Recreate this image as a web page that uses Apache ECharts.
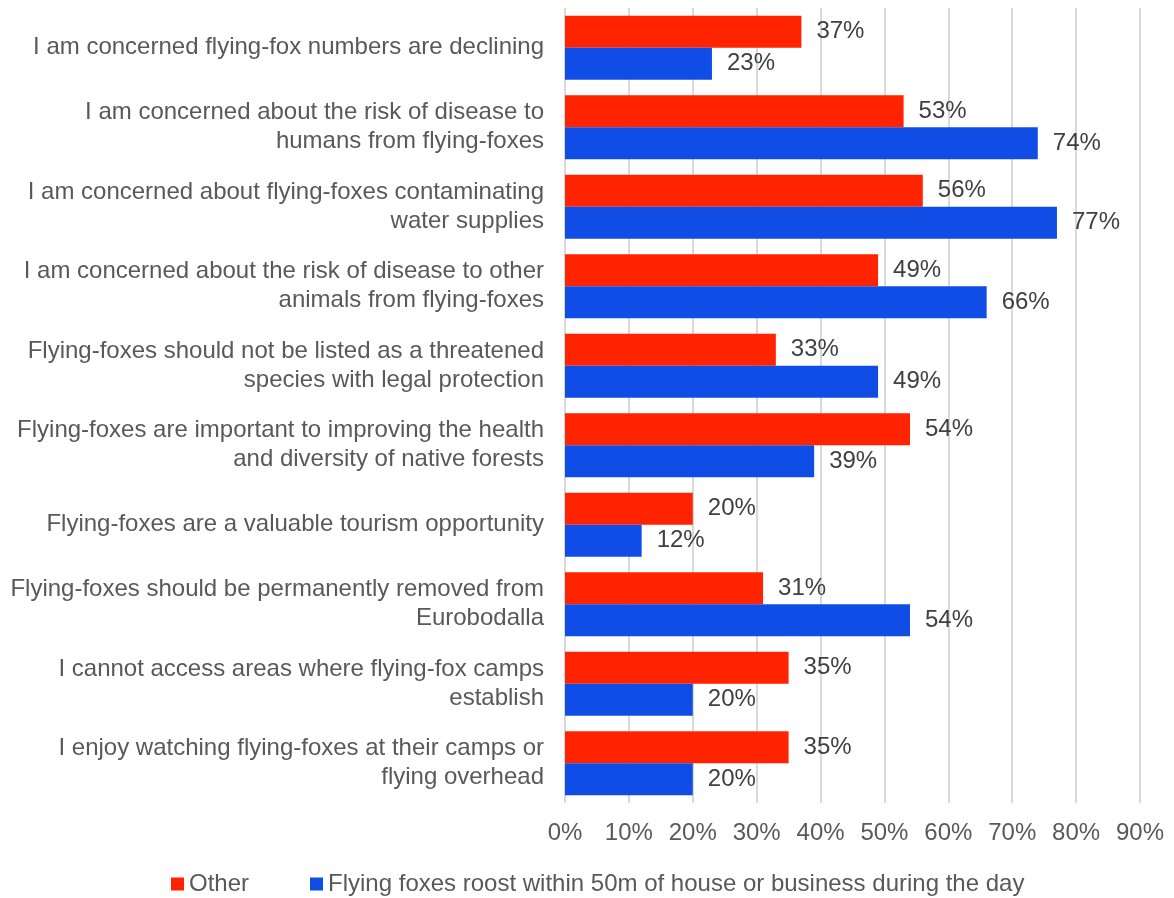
<!DOCTYPE html>
<html>
<head>
<meta charset="utf-8">
<script src="https://cdn.jsdelivr.net/npm/echarts@6/dist/echarts.min.js"></script>
<style>
  html, body { margin: 0; padding: 0; background: #fff; }
  #chart { width: 1174px; height: 898px; }
</style>
</head>
<body>
<div id="chart"></div>
<script>
// categories (top to bottom)
var categories = [
  'I am concerned flying-fox numbers are declining',
  'I am concerned about the risk of disease to\nhumans from flying-foxes',
  'I am concerned about flying-foxes contaminating\nwater supplies',
  'I am concerned about the risk of disease to other\nanimals from flying-foxes',
  'Flying-foxes should not be listed as a threatened\nspecies with legal protection',
  'Flying-foxes are important to improving the health\nand diversity of native forests',
  'Flying-foxes are a valuable tourism opportunity',
  'Flying-foxes should be permanently removed from\nEurobodalla',
  'I cannot access areas where flying-fox camps\nestablish',
  'I enjoy watching flying-foxes at their camps or\nflying overhead'
];

// percentages
var otherValues = [37, 53, 56, 49, 33, 54, 20, 31, 35, 35];
var roostValues = [23, 74, 77, 66, 49, 39, 12, 54, 20, 20];

var seriesNames = ['Other', 'Flying foxes roost within 50m of house or business during the day'];

var chart = echarts.init(document.getElementById('chart'));

var labelStyle = {
  show: true,
  position: 'right',
  distance: 15,
  formatter: '{c}%',
  color: '#404040',
  fontSize: 24,
  fontFamily: 'Liberation Sans'
};

var option = {
  animation: false,
  textStyle: { fontFamily: 'Liberation Sans' },
  grid: {
    left: 565,
    right: 34,
    top: 8,
    bottom: 95
  },
  legend: {
    top: 872,
    left: 171,
    icon: 'rect',
    itemWidth: 13,
    itemHeight: 13,
    itemGap: 61,
    padding: 0,
    textStyle: { fontSize: 24, color: '#595959', fontFamily: 'Liberation Sans' },
    data: seriesNames
  },
  xAxis: {
    type: 'value',
    min: 0,
    max: 90,
    interval: 10,
    axisLine: { show: false },
    axisTick: { show: false },
    axisLabel: {
      formatter: '{value}%',
      fontSize: 24,
      color: '#595959',
      margin: 18
    },
    splitLine: { lineStyle: { color: '#d9d9d9', width: 2 } }
  },
  yAxis: {
    type: 'category',
    inverse: true,
    data: categories,
    axisLine: { show: false },
    axisTick: { show: false },
    axisLabel: {
      fontSize: 24,
      color: '#595959',
      margin: 21,
      lineHeight: 29,
      align: 'right'
    }
  },
  series: [
    {
      name: seriesNames[0],
      type: 'bar',
      data: otherValues,
      barWidth: 32,
      barGap: '0%',
      itemStyle: { color: '#ff2300' },
      label: labelStyle
    },
    {
      name: seriesNames[1],
      type: 'bar',
      data: roostValues,
      barWidth: 32,
      barGap: '0%',
      itemStyle: { color: '#104ce6' },
      label: labelStyle
    }
  ]
};

chart.setOption(option);
</script>
</body>
</html>
